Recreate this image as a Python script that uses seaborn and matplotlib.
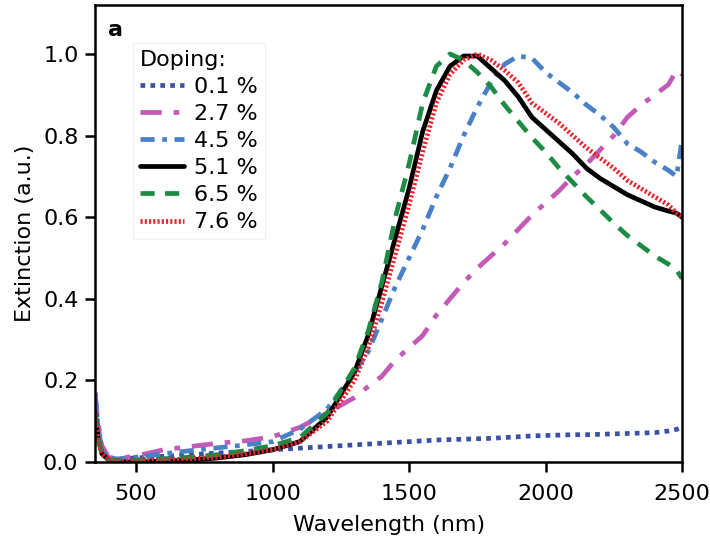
import matplotlib
matplotlib.use("Agg")
import matplotlib.pyplot as plt
import seaborn as sns
import pandas as pd

wavelength = [350, 360, 375, 400, 450, 500, 600, 700, 800, 900, 1000, 1100, 1200,
              1300, 1350, 1400, 1450, 1500, 1550, 1600, 1650, 1700, 1750, 1800,
              1850, 1900, 1950, 2000, 2050, 2100, 2150, 2200, 2250, 2300, 2350,
              2400, 2450, 2480, 2500]

doping_labels = ["0.1 %", "2.7 %", "4.5 %", "5.1 %", "6.5 %", "7.6 %"]

ext_01 = [0.17, 0.08, 0.03, 0.01, 0.008, 0.01, 0.014, 0.018, 0.022, 0.026, 0.03, 0.034,
          0.038, 0.042, 0.044, 0.046, 0.048, 0.05, 0.052, 0.054, 0.055, 0.056, 0.057, 0.058,
          0.06, 0.062, 0.064, 0.065, 0.066, 0.067, 0.067, 0.068, 0.069, 0.070, 0.071,
          0.072, 0.076, 0.08, 0.085]
ext_27 = [0.17, 0.10, 0.04, 0.01, 0.01, 0.015, 0.03, 0.038, 0.046, 0.052, 0.062, 0.085,
          0.12, 0.158, 0.185, 0.21, 0.25, 0.28, 0.31, 0.36, 0.40, 0.44, 0.475, 0.505,
          0.535, 0.57, 0.605, 0.635, 0.665, 0.70, 0.73, 0.765, 0.80, 0.845, 0.875,
          0.90, 0.925, 0.96, 0.95]
ext_45 = [0.16, 0.09, 0.03, 0.008, 0.008, 0.012, 0.02, 0.028, 0.035, 0.042, 0.05, 0.08,
          0.13, 0.22, 0.27, 0.35, 0.43, 0.50, 0.57, 0.65, 0.72, 0.80, 0.87, 0.93,
          0.975, 0.995, 0.99, 0.955, 0.93, 0.905, 0.875, 0.85, 0.82, 0.78, 0.76,
          0.735, 0.715, 0.70, 0.79]
ext_51 = [0.12, 0.06, 0.02, 0.005, 0.0, 0.0, 0.002, 0.005, 0.01, 0.018, 0.03, 0.05,
          0.11, 0.22, 0.31, 0.43, 0.55, 0.67, 0.81, 0.91, 0.97, 0.995, 0.995, 0.965,
          0.935, 0.895, 0.845, 0.815, 0.785, 0.755, 0.72, 0.695, 0.675, 0.655, 0.64,
          0.625, 0.615, 0.61, 0.60]
ext_65 = [0.12, 0.06, 0.02, 0.005, 0.003, 0.005, 0.008, 0.012, 0.018, 0.028, 0.04, 0.06,
          0.12, 0.23, 0.32, 0.44, 0.60, 0.73, 0.88, 0.97, 1.0, 0.985, 0.955, 0.92,
          0.875, 0.835, 0.795, 0.76, 0.72, 0.685, 0.65, 0.618, 0.585, 0.555, 0.53,
          0.505, 0.485, 0.47, 0.45]
ext_76 = [0.12, 0.06, 0.02, 0.005, 0.002, 0.003, 0.005, 0.008, 0.012, 0.02, 0.03, 0.05,
          0.10, 0.20, 0.28, 0.39, 0.51, 0.63, 0.76, 0.88, 0.95, 0.985, 1.0, 0.985,
          0.96, 0.93, 0.88, 0.855, 0.83, 0.80, 0.77, 0.745, 0.72, 0.69, 0.67,
          0.65, 0.63, 0.61, 0.60]

series = [ext_01, ext_27, ext_45, ext_51, ext_65, ext_76]
colors = ["#3A52A5", "#C25AB6", "#4A80C6", "#000000", "#1C8C44", "#E8232B"]
styles = [(0, (1.0, 1.1)), (0, (4.5, 2.5, 1.2, 2.5)), (0, (3.0, 1.6, 1.0, 1.6)),
          "-", (0, (3.0, 2.2)), (0, (0.45, 0.45))]

sns.set_theme(style="ticks")
plt.rcParams["font.family"] = ["DejaVu Sans"]

fig = plt.figure(figsize=(7.1, 5.4), dpi=100)
ax = fig.add_axes([0.134, 0.1444, 0.9606 - 0.134, 0.9907 - 0.1444])

for lab, vals, col, ls in zip(doping_labels, series, colors, styles):
    df = pd.DataFrame({"Wavelength": wavelength, "Extinction": vals})
    sns.lineplot(data=df, x="Wavelength", y="Extinction", ax=ax, color=col,
                 linestyle=ls, linewidth=3.4, label=lab, errorbar=None)

ax.set_xlim(350, 2500)
ax.set_ylim(0, 1.12)
ax.set_xticks([500, 1000, 1500, 2000, 2500])
ax.set_yticks([0.0, 0.2, 0.4, 0.6, 0.8, 1.0])
ax.set_yticklabels(["0.0", "0.2", "0.4", "0.6", "0.8", "1.0"])
ax.set_xlabel("Wavelength (nm)", fontsize=16, labelpad=8, color="black")
ax.set_ylabel("Extinction (a.u.)", fontsize=16, labelpad=6, color="black")
ax.tick_params(axis="both", labelsize=16, direction="out", length=7, width=1.8,
               color="black", labelcolor="black")
ax.tick_params(axis="x", pad=9)
ax.tick_params(axis="y", pad=5)
for sp in ax.spines.values():
    sp.set_linewidth(1.8)
    sp.set_color("black")
    sp.set_visible(True)

ax.text(0.022, 0.967, "a", transform=ax.transAxes, fontsize=16, fontweight="bold",
        ha="left", va="top", color="black")

leg = ax.legend(title="Doping:", loc="upper left", bbox_to_anchor=(0.065, 0.917),
                fontsize=16, title_fontsize=16, frameon=True, fancybox=False,
                handlelength=2.0, handletextpad=0.45, labelspacing=0.32,
                borderpad=0.3, borderaxespad=0)
leg._legend_box.align = "left"
leg.get_title().set_color("black")
for t in leg.get_texts():
    t.set_color("black")
leg.get_frame().set_edgecolor("#ececec")
leg.get_frame().set_linewidth(0.8)

fig.savefig("out.png", dpi=100)
